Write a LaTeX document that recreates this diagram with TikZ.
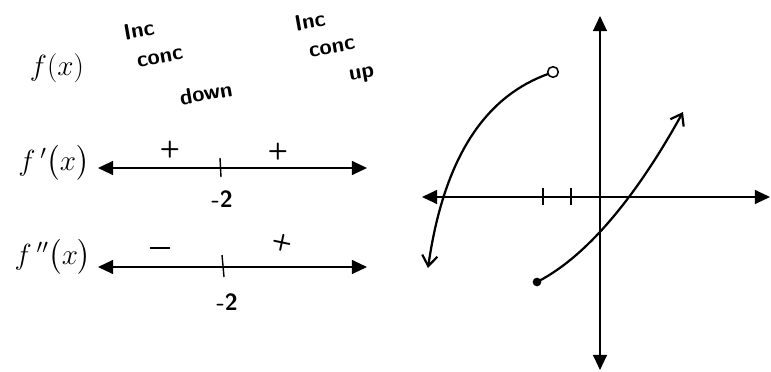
\documentclass[tikz,border=0pt]{standalone}
\usepackage{amsmath}
\usetikzlibrary{arrows.meta}
\begin{document}
\begin{tikzpicture}[x=.03cm,y=-.03cm,
  hand/.style={font=\sffamily\bfseries\fontsize{20}{25}\selectfont,inner sep=0pt},
  note/.style={hand,font=\sffamily\bfseries\fontsize{19}{24}\selectfont,rotate=10},
  lbl/.style={font=\fontsize{24}{28}\selectfont,inner sep=0pt},
  numline/.style={line width=1.3pt,{Triangle[length=13pt,width=12pt]}-{Triangle[length=13pt,width=12pt]}},
  curve/.style={line width=1.9pt,-{Straight Barb[length=9pt,width=13pt]}}]
\useasboundingbox (0,0) rectangle (771,372);
% sign charts
\node[lbl,font=\fontsize{26}{30}\selectfont] (fx) at (57,68) {$f(x)$};
\node[lbl] (fpx) at (54,163) {$f\,'\bigl(x\bigr)$};
\node[lbl] (fppx) at (53,257) {$f\,''\bigl(x\bigr)$};
\node[note] (inc1) at (139,30) {Inc};
\node[note] (conc1) at (160,58) {conc};
\node[note] (down1) at (206,93) {down};
\node[note] (inc2) at (310,21) {Inc};
\node[note] (conc2) at (332,48) {conc};
\node[note] (up2) at (362,75) {up};
\coordinate (la) at (98,168); \coordinate (lb) at (367,168);
\coordinate (ma) at (98,267); \coordinate (mb) at (367,267);
\draw[numline] (la)--(lb);
\draw[numline] (ma)--(mb);
\coordinate (t1a) at (220,158); \coordinate (t1b) at (221,177);
\coordinate (t2a) at (222,255); \coordinate (t2b) at (224,277);
\draw[line width=1.2pt] (t1a)--(t1b);
\draw[line width=1.2pt] (t2a)--(t2b);
\node[hand] (pa) at (170,150) {+};
\node[hand] (pb) at (278,152) {+};
\node[hand] (ma1) at (222,199) {-2};
\node[hand] (mn) at (160,248) {\rule{17pt}{2pt}};
\node[hand,rotate=-12] (pc) at (282,243) {+};
\node[hand] (mb1) at (227,302) {-2};
% graph of f
\coordinate (xa) at (422,197); \coordinate (xb) at (770,197);
\coordinate (ya) at (600,370); \coordinate (yb) at (600,16);
\draw[numline] (xa)--(xb);
\draw[numline] (ya)--(yb);
\foreach \x in {543,571}{\coordinate (tk\x a) at (\x,188); \coordinate (tk\x b) at (\x,205); \draw[line width=1.2pt] (tk\x a)--(tk\x b);}
\coordinate (hole) at (553,72);
\coordinate (dot) at (537,282);
\coordinate (lt) at (428,268);
\coordinate (rt) at (683,112);
\draw[curve] (548,74) .. controls (490,95) and (445,150) .. (lt);
\draw[curve] (dot) .. controls (590,255) and (640,190) .. (rt);
\draw[line width=1.3pt] (hole) circle[radius=.16cm];
\fill (dot) circle[radius=.13cm];
\end{tikzpicture}
\end{document}
